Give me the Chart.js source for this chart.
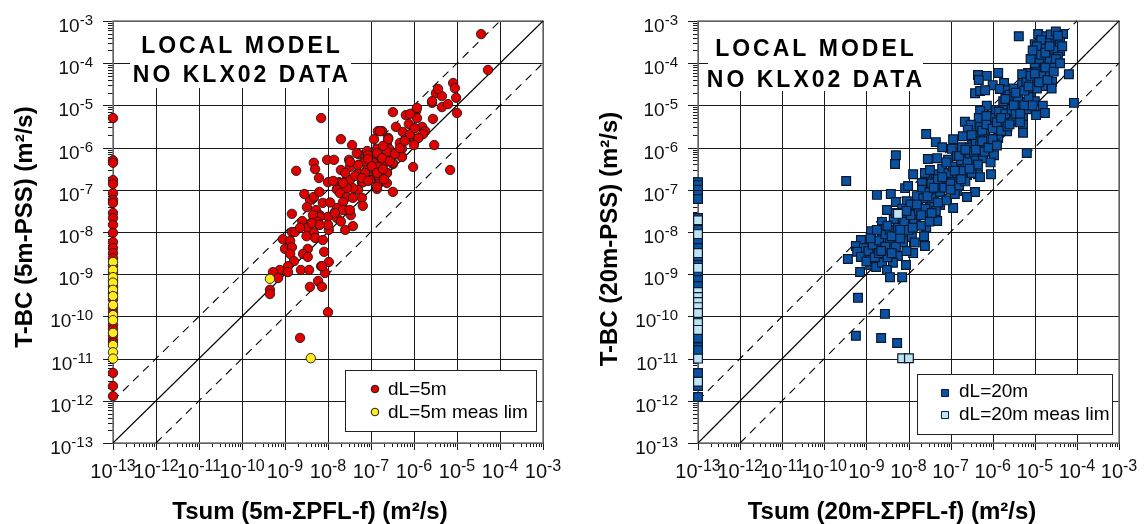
<!DOCTYPE html>
<html>
<head>
<meta charset="utf-8">
<script src="https://cdn.jsdelivr.net/npm/chart.js@4.4.0/dist/chart.umd.min.js"></script>
<style>
  body { margin: 0; background: #fff; }
  #wrap { position: relative; width: 1145px; height: 524px; }
  canvas { position: absolute; top: 0; }
</style>
</head>
<body>
<div id="wrap">
  <canvas id="chart5" width="572" height="524" style="left:0"></canvas>
  <canvas id="chart20" width="573" height="524" style="left:572px"></canvas>
</div>
<script>
// all values are log10 of transmissivity (m2/s)
const decades = [-13, -12, -11, -10, -9, -8, -7, -6, -5, -4, -3];

// 1:1 line and one order of magnitude either side
const oneToOne = [[-13, -13], [-3, -3]];
const upperLine = [[-13, -12], [-4, -3]];
const lowerLine = [[-12, -13], [-3, -4]];

// dL=5m, [Tsum, T-BC]
const dL5 = [
  [-4.44,-3.31],[-4.28,-4.16],[-5.09,-4.47],[-5.05,-4.59],[-5.49,-4.71],[-5.35,-4.78],[-5.02,-4.82],
  [-5.58,-4.94],[-5.35,-5.04],[-5.21,-4.97],[-5.0,-5.18],[-5.56,-5.32],[-5.95,-5.13],[-6.49,-5.16],
  [-6.19,-5.23],[-5.93,-5.30],[-8.16,-5.30],[-6.12,-5.44],[-6.42,-5.51],[-5.81,-5.51],[-6.84,-5.61],
  [-6.74,-5.61],[-6.26,-5.63],[-5.74,-5.61],[-5.79,-5.68],[-6.09,-5.75],[-6.93,-5.80],[-6.6,-5.77],
  [-6.2,-5.80],[-5.9,-5.77],[-7.70,-5.80],[-6.63,-5.91],[-6.33,-5.89],[-6.0,-5.94],[-7.44,-5.94],
  [-5.53,-5.94],[-6.86,-6.03],[-6.28,-6.03],[-6.58,-6.03],[-7.09,-6.08],[-7.30,-6.15],[-7.0,-6.20],
  [-6.63,-6.20],[-6.28,-6.22],[-7.51,-6.29],[-8.02,-6.29],[-7.86,-6.29],[-8.33,-6.36],[-7.16,-6.32],
  [-6.86,-6.39],[-6.49,-6.39],[-6.02,-6.46],[-5.16,-6.53],[-7.70,-6.53],[-8.30,-6.51],[-7.0,-6.48],
  [-6.63,-6.60],[-7.3,-6.6],[-7.49,-6.46],[-6.91,-6.67],[-8.21,-6.72],[-7.56,-6.74],[-7.21,-6.82],
  [-8.0,-6.82],[-7.74,-6.82],[-6.81,-6.84],[-8.74,-6.55],[-7.79,-6.98],[-7.30,-7.0],[-6.86,-6.98],
  [-6.49,-7.05],[-8.42,-7.24],[-8.33,-7.17],[-8.12,-7.31],[-8.49,-7.41],[-8.28,-7.48],[-7.84,-7.53],
  [-7.65,-7.43],[-7.47,-7.60],[-7.21,-7.19],[-7.19,-7.38],[-8.84,-7.57],[-8.60,-7.74],[-8.19,-7.60],
  [-8.0,-7.64],[-8.40,-7.79],[-8.21,-7.83],[-7.79,-7.67],[-7.60,-7.95],[-7.42,-7.86],[-7.98,-7.95],
  [-8.84,-8.0],[-8.77,-8.0],[-8.49,-7.90],[-8.33,-8.02],[-8.30,-8.14],[-8.12,-8.19],[-9.05,-8.17],
  [-8.88,-8.21],[-9.0,-8.40],[-8.84,-8.36],[-8.47,-8.40],[-8.09,-8.47],[-8.58,-8.52],[-8.47,-8.59],
  [-8.88,-8.52],[-8.79,-8.69],[-7.98,-8.71],[-8.16,-8.81],[-8.93,-8.81],[-9.12,-8.90],[-9.28,-8.95],
  [-8.63,-8.90],[-8.44,-8.90],[-8.93,-8.95],[-8.07,-8.97],[-9.16,-9.09],[-9.35,-9.37],[-9.35,-9.47],
  [-8.23,-9.16],[-8.42,-9.30],[-8.14,-9.30],[-8.0,-9.90],[-8.65,-10.51],[-8.14,-8.81],
  [-7.33,-6.13],[-7.07,-6.18],[-6.86,-6.15],[-6.63,-6.10],[-6.28,-6.22],[-6.49,-6.36],[-6.72,-6.41],
  [-6.95,-6.36],[-7.14,-6.34],[-7.30,-6.41],[-7.49,-6.34],[-7.09,-6.53],[-6.86,-6.65],[-6.63,-6.60],
  [-6.84,-6.46],[-7.02,-6.77],[-6.86,-6.93],[-6.63,-6.84],[-7.19,-6.82],[-7.49,-6.77],[-7.42,-6.96],
  [-7.72,-6.84],[-7.56,-6.96],[-7.79,-7.0],[-7.72,-7.08],[-7.56,-7.17],[-7.42,-7.19],[-7.65,-7.29],
  [-7.79,-7.43],[-7.65,-7.48],[-7.49,-7.48],[-7.84,-7.55],[-8.19,-7.64],[-8.35,-7.60],[-8.23,-7.76],
  [-8.37,-7.79],[-8.0,-7.83],[-8.19,-7.83],[-6.79,-5.61],[-6.60,-5.80],[-6.72,-5.96],[-6.86,-6.13],
  [-6.74,-6.25],[-6.56,-6.32],[-6.44,-6.15],[-6.33,-6.01],[-6.21,-5.84],[-6.09,-5.68],[-5.98,-5.54],
  [-7.07,-6.27],[-6.98,-6.44],[-7.14,-6.60],[-6.86,-6.60],[-6.72,-6.51],[-7.37,-6.67],[-7.21,-6.72],
  [-7.07,-6.79],[-7.65,-6.84],[-7.88,-6.79],[-6.09,-5.20],[-5.93,-5.06],[-5.58,-4.90],[-5.44,-4.61],
  [-8.55,-7.10],[-8.65,-7.90],[-8.20,-7.05],[-7.95,-7.30],[-7.70,-7.75],[-8.50,-8.10],[-7.60,-6.60],
  [-6.70,-6.75]
];
// dL=5m, T-BC where Tsum is below 1e-13
const dL5NoFlow = [
  -5.30,-6.30,-6.36,-6.77,-6.86,-7.08,-7.24,-7.31,-7.55,-7.67,-7.83,-8.02,-8.24,-8.38,-8.50,-8.62,
  -8.80,-8.95,-9.15,-9.30,-9.45,-9.60,-9.80,-9.90,-10.05,-10.20,-10.30,-10.45,-10.56,-10.62,
  -11.34,-11.65,-11.89
];
const dL5Lim = [[-9.35,-9.11],[-8.40,-10.99]];
const dL5LimNoFlow = [
  -8.71,-8.90,-9.07,-9.20,-9.37,-9.52,-9.73,-9.97,-10.09,-10.39,-10.68,-10.85,-11.0
];

// dL=20m, [Tsum, T-BC]
const dL20 = [
  [-5.38,-3.36],[-4.92,-3.31],[-4.73,-3.36],[-4.57,-3.36],[-4.33,-3.31],[-4.45,-3.50],[-5.0,-3.55],
  [-4.71,-3.55],[-4.57,-3.55],[-4.40,-3.71],[-4.97,-3.73],[-4.81,-3.76],[-4.59,-3.78],[-4.81,-3.92],
  [-4.57,-4.02],[-4.97,-4.11],[-4.69,-4.21],[-4.19,-4.26],[-5.16,-4.23],[-5.30,-4.26],[-4.95,-4.37],
  [-4.59,-4.44],[-6.35,-4.28],[-6.14,-4.30],[-6.33,-4.40],[-5.87,-4.23],[-5.73,-4.47],[-6.0,-4.52],
  [-5.83,-4.61],[-5.64,-4.64],[-5.38,-4.61],[-5.09,-4.68],[-4.81,-4.54],[-6.42,-4.71],[-6.30,-4.66],
  [-6.18,-4.64],[-5.57,-4.85],[-5.28,-4.92],[-5.0,-4.90],[-4.81,-5.01],[-4.07,-4.94],[-6.14,-5.01],
  [-5.92,-5.11],[-5.73,-4.99],[-5.42,-4.97],[-5.19,-5.09],[-4.76,-5.18],[-4.97,-5.23],[-6.30,-5.13],
  [-6.33,-5.30],[-6.0,-5.30],[-5.66,-5.30],[-5.52,-5.35],[-5.28,-5.30],[-6.66,-5.39],[-6.52,-5.46],
  [-6.30,-5.51],[-5.95,-5.49],[-5.76,-5.44],[-5.28,-5.46],[-5.28,-5.65],[-6.59,-5.58],[-6.37,-5.73],
  [-6.18,-5.68],[-6.02,-5.80],[-5.87,-5.77],[-5.66,-5.61],[-6.71,-5.73],[-7.58,-5.68],[-7.35,-5.87],
  [-7.20,-5.99],[-6.97,-6.03],[-6.94,-5.80],[-6.73,-5.99],[-6.49,-5.94],[-6.33,-6.01],[-5.97,-6.18],
  [-5.19,-6.13],[-8.30,-6.18],[-8.32,-6.39],[-7.54,-6.27],[-7.32,-6.25],[-7.06,-6.29],[-6.85,-6.20],
  [-6.61,-6.15],[-6.42,-6.25],[-6.23,-6.25],[-6.85,-6.46],[-6.54,-6.44],[-6.35,-6.63],[-6.04,-6.63],
  [-7.89,-6.63],[-7.56,-6.67],[-7.32,-6.63],[-7.18,-6.77],[-6.94,-6.72],[-6.61,-6.65],[-7.68,-6.84],
  [-7.32,-6.96],[-7.04,-6.91],[-6.85,-7.03],[-6.42,-7.05],[-8.08,-6.96],[-8.01,-6.91],[-8.42,-7.10],
  [-8.75,-7.12],[-9.48,-6.79],[-7.61,-6.60],[-7.49,-6.53],[-7.68,-7.0],[-6.61,-7.17],[-8.30,-7.29],
  [-8.04,-7.27],[-7.77,-7.36],[-7.49,-7.31],[-7.25,-7.36],[-6.94,-7.43],[-8.51,-7.48],[-8.08,-7.60],
  [-7.85,-7.57],[-7.56,-7.60],[-7.32,-7.74],[-8.63,-7.76],[-8.20,-7.76],[-7.87,-7.79],[-7.58,-7.90],
  [-8.89,-7.98],[-8.61,-7.93],[-8.32,-8.05],[-8.11,-8.0],[-7.92,-8.12],[-7.63,-8.10],[-8.63,-8.14],
  [-9.13,-8.19],[-8.44,-8.24],[-8.13,-8.24],[-9.25,-8.33],[-9.06,-8.38],[-8.75,-8.40],[-8.42,-8.43],
  [-7.61,-8.33],[-9.22,-8.47],[-8.91,-8.57],[-8.61,-8.59],[-8.25,-8.57],[-7.89,-8.50],[-9.44,-8.64],
  [-9.13,-8.59],[-8.91,-8.78],[-8.77,-8.83],[-8.63,-8.73],[-8.37,-8.73],[-8.06,-8.78],[-9.15,-8.95],
  [-8.51,-8.90],[-8.44,-9.07],[-8.15,-9.07],[-9.20,-9.56],[-8.56,-9.94],[-9.25,-10.46],[-8.65,-10.51],
  [-8.27,-10.63],
  [-9.0,-8.7],[-8.95,-8.45],[-8.85,-8.3],[-8.8,-8.6],[-8.7,-8.2],[-8.7,-8.5],[-8.55,-8.05],
  [-8.55,-8.35],[-8.5,-8.6],[-8.45,-7.95],[-8.4,-8.1],[-8.35,-7.7],[-8.3,-8.35],[-8.25,-7.9],
  [-8.2,-8.15],[-8.15,-7.45],[-8.1,-7.75],[-8.05,-8.45],[-8.0,-7.95],[-7.95,-7.35],[-7.95,-7.6],
  [-7.85,-8.25],[-7.8,-7.15],[-7.75,-7.5],[-7.7,-7.85],[-7.65,-7.2],[-7.6,-7.45],[-7.5,-7.05],
  [-7.5,-7.75],[-7.45,-6.85],[-7.4,-7.2],[-7.35,-7.5],[-7.3,-6.75],[-7.25,-7.05],[-7.2,-6.5],
  [-7.15,-6.95],[-7.1,-7.25],[-7.05,-6.6],[-7.0,-6.85],[-6.95,-6.45],[-6.9,-7.1],[-6.85,-6.6],
  [-6.8,-6.9],[-6.75,-6.3],[-6.7,-6.55],[-6.65,-6.8],[-6.6,-6.35],[-6.55,-6.0],[-6.5,-6.6],
  [-6.45,-6.1],[-6.4,-5.85],[-6.35,-6.4],[-6.3,-5.95],[-6.25,-5.6],[-6.2,-6.1],[-6.15,-5.45],
  [-6.1,-5.8],[-6.05,-6.35],[-6.0,-5.55],[-5.95,-5.9],[-5.9,-5.4],[-5.85,-5.15],[-5.8,-5.6],
  [-5.75,-4.9],[-5.7,-5.2],[-5.65,-5.5],[-5.6,-4.75],[-5.55,-5.1],[-5.5,-4.6],[-5.45,-5.2],
  [-5.4,-4.8],[-5.35,-5.4],[-5.3,-4.5],[-5.25,-5.0],[-5.2,-4.45],[-5.15,-4.8],[-5.1,-4.3],
  [-5.05,-5.0],[-5.0,-4.0],[-4.95,-4.6],[-4.9,-3.9],[-4.85,-4.3],[-4.8,-3.6],[-4.75,-4.1],
  [-4.7,-3.45],[-4.65,-3.9],[-4.6,-4.6],[-4.55,-3.65],[-4.5,-3.4],[-4.45,-3.85],[-4.4,-3.5],
  [-4.35,-3.6],[-4.62,-3.32],[-4.5,-3.25],[-4.85,-3.45],[-4.95,-3.6],
  [-8.9,-8.15],[-8.75,-7.95],[-8.65,-8.45],[-8.5,-7.85],[-8.4,-8.5],[-8.3,-7.55],[-8.2,-7.95],
  [-8.05,-7.5],[-7.9,-7.9],[-7.8,-7.35],[-7.7,-7.6],[-7.55,-7.15],[-7.45,-7.55],[-7.4,-6.95],
  [-7.3,-7.3],[-7.2,-6.7],[-7.1,-6.35],[-7.0,-7.0],[-6.9,-6.55],[-6.8,-6.2],[-6.75,-6.75],
  [-6.65,-6.05],[-6.55,-6.5],[-6.5,-5.7],[-6.4,-6.05],[-6.3,-6.7],[-6.25,-5.85],[-6.15,-5.25],
  [-6.1,-6.0],[-6.0,-5.8],[-5.9,-5.95],[-5.8,-5.3],[-5.7,-4.85],[-5.6,-5.45],[-5.5,-5.0],
  [-5.45,-4.7],[-5.35,-5.2],[-5.25,-4.65],[-5.15,-4.55],[-5.1,-3.9],[-5.05,-3.7],[-5.0,-4.25],
  [-4.9,-4.45],[-4.85,-3.8],[-4.75,-3.75],[-4.7,-4.4],[-4.65,-3.6],[-4.55,-4.2],[-4.5,-3.9],
  [-4.45,-3.35],[-4.4,-4.0]
];
const dL20NoFlow = [
  -6.82,-6.89,-7.0,-7.12,-7.22,-7.67,-7.80,-7.95,-8.12,-8.25,-8.38,-8.66,-8.78,-8.90,-9.02,-9.14,
  -9.28,-9.60,-9.90,-10.01,-10.39,-10.51,-10.73,-10.80,-11.34,-11.65,-11.91
];
const dL20Lim = [[-8.25,-7.57],[-8.15,-10.99],[-7.99,-10.99]];
const dL20LimNoFlow = [
  -7.72,-8.05,-8.50,-8.85,-9.42,-9.54,-9.66,-9.78,-9.92,-10.16,-10.32,-11.0,-11.55
];

const FONT = '"Liberation Sans", Arial, sans-serif';
const toPoint = ([lx, ly]) => ({ x: 10 ** lx, y: 10 ** ly });
const noFlowPoint = ly => ({ x: 1e-13, y: 10 ** ly });

function refLine(pts, dash) {
  return {
    data: pts.map(toPoint), showLine: true, pointRadius: 0,
    borderColor: '#000', borderWidth: 1.1, borderDash: dash, order: 5, clip: false
  };
}

// label like 10^-13 with a raised exponent
function powerLabel(ctx, exp, x, base, align, size) {
  const big = size + 'px ' + FONT, small = (size - 4) + 'px ' + FONT;
  ctx.font = big;
  const wb = ctx.measureText('10').width;
  ctx.font = small;
  const ws = ctx.measureText(String(exp)).width;
  const x0 = align === 'right' ? x - wb - ws : x - (wb + ws) / 2;
  ctx.textAlign = 'left';
  ctx.textBaseline = 'alphabetic';
  ctx.font = big;
  ctx.fillText('10', x0, base);
  ctx.font = small;
  ctx.fillText(String(exp), x0 + wb, base - 7);
}

function decorations(cfg) {
  return {
    id: 'decorations',
    beforeDatasetsDraw(chart) {
      const { ctx, chartArea: a, scales: { x, y } } = chart;
      ctx.save();
      ctx.strokeStyle = '#1a1a1a';
      ctx.lineWidth = 1;
      ctx.beginPath();
      decades.forEach(e => {
        const px = Math.round(x.getPixelForValue(10 ** e)) + 0.5;
        const py = Math.round(y.getPixelForValue(10 ** e)) + 0.5;
        ctx.moveTo(px, a.top); ctx.lineTo(px, a.bottom + 7);
        ctx.moveTo(a.left - 10, py); ctx.lineTo(a.right, py);
        if (e < -3) {
          for (let m = 2; m <= 9; m++) {
            const mx = Math.round(x.getPixelForValue(m * 10 ** e)) + 0.5;
            const my = Math.round(y.getPixelForValue(m * 10 ** e)) + 0.5;
            ctx.moveTo(mx, a.bottom); ctx.lineTo(mx, a.bottom + 4);
            ctx.moveTo(a.left - 5, my); ctx.lineTo(a.left, my);
          }
        }
      });
      ctx.stroke();
      ctx.strokeStyle = '#777';
      ctx.lineWidth = 1.5;
      ctx.strokeRect(a.left, a.top, a.right - a.left, a.bottom - a.top);

      // white label box over the grid
      const b = cfg.box;
      ctx.fillStyle = '#fff';
      ctx.fillRect(b.x, b.y, b.w, b.h);
      ctx.fillStyle = '#000';
      ctx.font = 'bold 23px ' + FONT;
      ctx.letterSpacing = '3px';
      ctx.textAlign = 'center';
      ctx.textBaseline = 'alphabetic';
      ctx.fillText('LOCAL MODEL', b.tx, b.l1);
      ctx.fillText('NO KLX02 DATA', b.tx, b.l2);
      ctx.letterSpacing = '0px';
      ctx.restore();
    },
    afterDatasetsDraw(chart) {
      const { ctx, chartArea: a, scales: { x, y } } = chart;
      ctx.save();
      // tick labels
      ctx.fillStyle = '#111';
      decades.forEach(e => {
        powerLabel(ctx, e, a.left - 20, y.getPixelForValue(10 ** e) + 11, 'right', 19);
        powerLabel(ctx, e, x.getPixelForValue(10 ** e), a.bottom + 35, 'center', 20);
      });

      // axis titles
      ctx.fillStyle = '#000';
      ctx.font = 'bold 24px ' + FONT;
      ctx.textAlign = 'center';
      ctx.textBaseline = 'alphabetic';
      ctx.fillText(cfg.xTitle, cfg.xTitleX, 519);
      ctx.save();
      ctx.translate(a.left - 81, cfg.yTitleY);
      ctx.rotate(-Math.PI / 2);
      ctx.fillText(cfg.yTitle, 0, 0);
      ctx.restore();

      // legend
      const L = cfg.legend;
      ctx.fillStyle = '#fff';
      ctx.fillRect(L.x, L.y, L.w, L.h);
      ctx.strokeStyle = '#222';
      ctx.lineWidth = 1;
      ctx.strokeRect(L.x + 0.5, L.y + 0.5, L.w, L.h);
      ctx.font = '19px ' + FONT;
      ctx.textAlign = 'left';
      L.items.forEach((it, i) => {
        const ds = chart.data.datasets[it.ds];
        ctx.fillStyle = ds.backgroundColor;
        ctx.strokeStyle = ds.borderColor;
        Chart.helpers.drawPoint(ctx, {
          pointStyle: ds.pointStyle, radius: L.marker, borderWidth: ds.borderWidth, rotation: 0
        }, L.mx, L.my[i]);
        ctx.fillStyle = '#000';
        ctx.fillText(it.text, L.tx, L.base[i]);
      });
      ctx.restore();
    }
  };
}

function makeChart(id, cfg) {
  const sym = cfg.symbol;
  new Chart(document.getElementById(id), {
    type: 'scatter',
    data: {
      datasets: [
        {
          label: cfg.names[0],
          data: cfg.main.map(toPoint).concat(cfg.mainNoFlow.map(noFlowPoint)),
          pointStyle: sym.style, pointRadius: sym.r, backgroundColor: cfg.colors[0],
          borderColor: sym.edge, borderWidth: sym.bw, order: 2, clip: false
        },
        {
          label: cfg.names[1],
          data: cfg.lim.map(toPoint).concat(cfg.limNoFlow.map(noFlowPoint)),
          pointStyle: sym.style, pointRadius: sym.r, backgroundColor: cfg.colors[1],
          borderColor: sym.edge, borderWidth: sym.bw, order: 1, clip: false
        },
        refLine(oneToOne, []),
        refLine(upperLine, [8, 6]),
        refLine(lowerLine, [8, 6])
      ]
    },
    options: {
      responsive: false,
      animation: false,
      events: [],
      layout: { padding: cfg.padding },
      scales: {
        x: { type: 'logarithmic', min: 1e-13, max: 1e-3, display: false },
        y: { type: 'logarithmic', min: 1e-13, max: 1e-3, display: false }
      },
      plugins: { legend: { display: false }, tooltip: { enabled: false } }
    },
    plugins: [decorations(cfg)]
  });
}

makeChart('chart5', {
  main: dL5, mainNoFlow: dL5NoFlow, lim: dL5Lim, limNoFlow: dL5LimNoFlow,
  names: ['dL=5m', 'dL=5m meas lim'],
  colors: ['#e00000', '#ffec1a'],
  symbol: { style: 'circle', r: 4.7, edge: '#1a1a1a', bw: 0.9 },
  padding: { left: 113, top: 21, right: 29, bottom: 81 },
  box: { x: 130, y: 22, w: 221, h: 66, tx: 242, l1: 53, l2: 82 },
  xTitle: 'Tsum (5m-ΣPFL-f) (m²/s)', xTitleX: 310,
  yTitle: 'T-BC (5m-PSS) (m²/s)', yTitleY: 227,
  legend: {
    x: 345, y: 370, w: 191, h: 61, marker: 3.8, mx: 375, my: [389, 412], tx: 388, base: [395, 418],
    items: [{ ds: 0, text: 'dL=5m' }, { ds: 1, text: 'dL=5m meas lim' }]
  }
});

makeChart('chart20', {
  main: dL20, mainNoFlow: dL20NoFlow, lim: dL20Lim, limNoFlow: dL20LimNoFlow,
  names: ['dL=20m', 'dL=20m meas lim'],
  colors: ['#0a52a0', '#bfe3f0'],
  symbol: { style: 'rect', r: 6.2, edge: '#0a1830', bw: 1.2 },
  padding: { left: 126, top: 21, right: 26, bottom: 81 },
  box: { x: 136, y: 22, w: 215, h: 69, tx: 244, l1: 56, l2: 87 },
  xTitle: 'Tsum (20m-ΣPFL-f) (m²/s)', xTitleX: 320,
  yTitle: 'T-BC (20m-PSS) (m²/s)', yTitleY: 239,
  legend: {
    x: 345, y: 374, w: 195, h: 60, marker: 5, mx: 373, my: [393, 415], tx: 387, base: [397, 420],
    items: [{ ds: 0, text: 'dL=20m' }, { ds: 1, text: 'dL=20m meas lim' }]
  }
});
</script>
</body>
</html>
